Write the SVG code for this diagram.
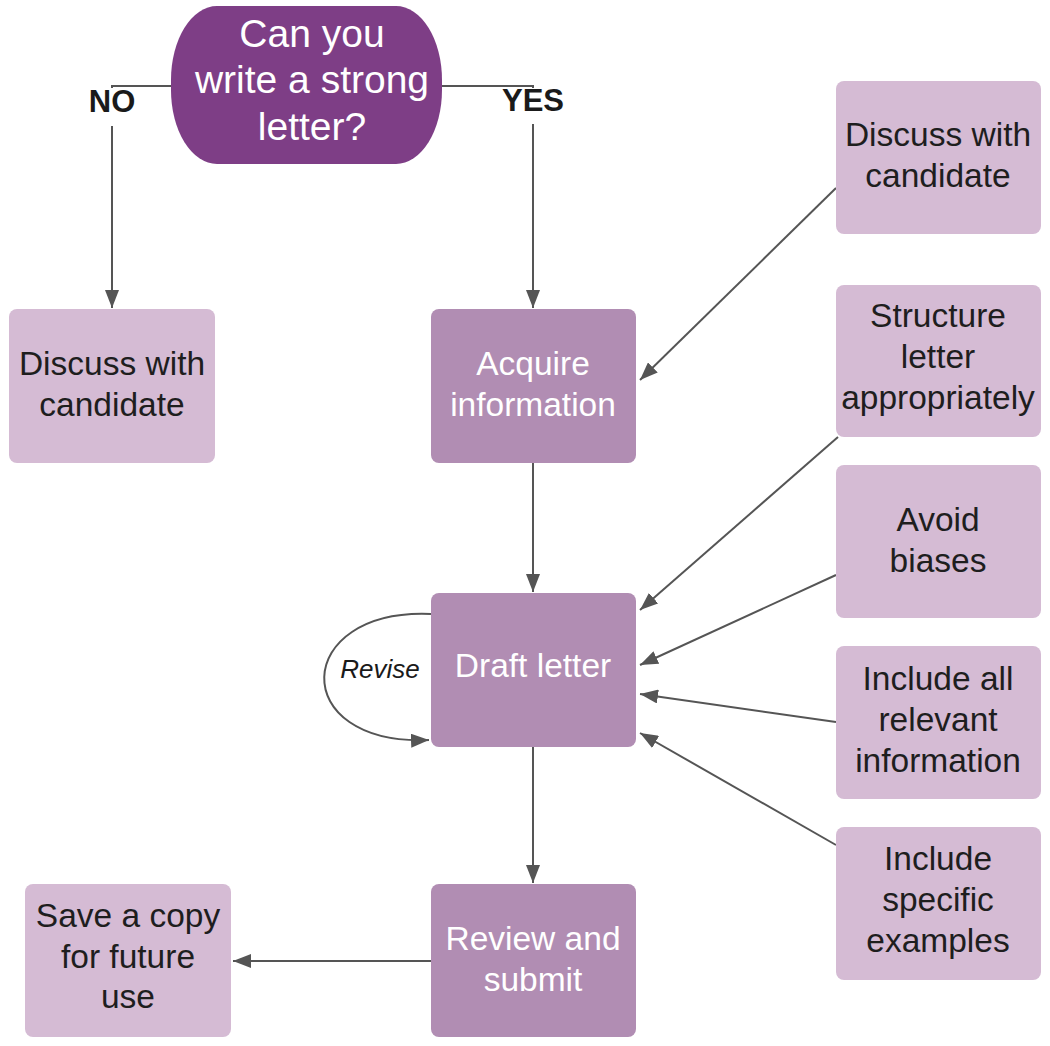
<svg xmlns="http://www.w3.org/2000/svg" width="1050" height="1046" viewBox="0 0 1050 1046">
<defs>
<style>
.term{fill:#7e3e86}
.mid{fill:#b18db3}
.light{fill:#d5bbd4}
.wt{fill:#ffffff;font-family:"Liberation Sans",Arial,sans-serif;font-size:33.5px;text-anchor:middle}
.bt{fill:#1e1e1e;font-family:"Liberation Sans",Arial,sans-serif;font-size:33.5px;text-anchor:middle}
.tt{fill:#ffffff;font-family:"Liberation Sans",Arial,sans-serif;font-size:39px;text-anchor:middle}
.lbl{fill:#1a1a1a;font-family:"Liberation Sans",Arial,sans-serif;font-size:31px;font-weight:bold;text-anchor:middle}
.rev{fill:#1a1a1a;font-family:"Liberation Sans",Arial,sans-serif;font-size:26px;font-style:italic;text-anchor:middle}
.c{fill:none;stroke:#555555;stroke-width:2;marker-end:url(#ah)}
</style>
<marker id="ah" viewBox="0 0 18 14" markerWidth="18" markerHeight="14" refX="18" refY="7" orient="auto" markerUnits="userSpaceOnUse">
<path d="M0,0 L18,7 L0,14 z" fill="#555555"/>
</marker>
</defs>
<rect width="1050" height="1046" fill="#ffffff"/>

<g id="connectors">
<path class="c" d="M172,86 H112 V308"/>
<path class="c" d="M442,86 H533 V308"/>
<path class="c" d="M533,463 V592"/>
<path class="c" d="M533,747 V883"/>
<path class="c" d="M431,961 H233"/>
<path class="c" d="M836,188 L640,380"/>
<path class="c" d="M838,437 L640,610"/>
<path class="c" d="M836,575 L640,665"/>
<path class="c" d="M836,722 L640,694"/>
<path class="c" d="M836,845 L640,733"/>
<path class="c" d="M431,614 C292,608 286,746 429,740"/>
<rect x="86" y="88" width="52" height="38" fill="#ffffff"/>
<text class="lbl" x="112" y="112">NO</text>
<rect x="498" y="88" width="70" height="36" fill="#ffffff"/>
<text class="lbl" x="533" y="111">YES</text>
<text class="rev" x="380" y="678">Revise</text>
</g>

<g id="start">
<rect class="term" x="171" y="6" width="271" height="158" rx="46" ry="74"/>
<text class="tt" x="312" y="47">Can you</text>
<text class="tt" x="312" y="93">write a strong</text>
<text class="tt" x="312" y="140">letter?</text>
</g>

<g id="discuss-left">
<rect class="light" x="9" y="309" width="206" height="154" rx="8"/>
<text class="bt" x="112" y="375">Discuss with</text>
<text class="bt" x="112" y="416">candidate</text>
</g>

<g id="acquire">
<rect class="mid" x="431" y="309" width="205" height="154" rx="8"/>
<text class="wt" x="533" y="375">Acquire</text>
<text class="wt" x="533" y="416">information</text>
</g>

<g id="draft">
<rect class="mid" x="431" y="593" width="205" height="154" rx="8"/>
<text class="wt" x="533" y="677">Draft letter</text>
</g>

<g id="review">
<rect class="mid" x="431" y="884" width="205" height="153" rx="8"/>
<text class="wt" x="533" y="950">Review and</text>
<text class="wt" x="533" y="991">submit</text>
</g>

<g id="save">
<rect class="light" x="25" y="884" width="206" height="153" rx="8"/>
<text class="bt" x="128" y="927">Save a copy</text>
<text class="bt" x="128" y="968">for future</text>
<text class="bt" x="128" y="1008">use</text>
</g>

<g id="discuss-right">
<rect class="light" x="836" y="81" width="205" height="153" rx="8"/>
<text class="bt" x="938" y="146">Discuss with</text>
<text class="bt" x="938" y="187">candidate</text>
</g>

<g id="structure">
<rect class="light" x="836" y="285" width="205" height="152" rx="8"/>
<text class="bt" x="938" y="327">Structure</text>
<text class="bt" x="938" y="368">letter</text>
<text class="bt" x="938" y="409">appropriately</text>
</g>

<g id="avoid">
<rect class="light" x="836" y="465" width="205" height="153" rx="8"/>
<text class="bt" x="938" y="531">Avoid</text>
<text class="bt" x="938" y="572">biases</text>
</g>

<g id="include-all">
<rect class="light" x="836" y="646" width="205" height="153" rx="8"/>
<text class="bt" x="938" y="690">Include all</text>
<text class="bt" x="938" y="731">relevant</text>
<text class="bt" x="938" y="772">information</text>
</g>

<g id="include-specific">
<rect class="light" x="836" y="827" width="205" height="153" rx="8"/>
<text class="bt" x="938" y="870">Include</text>
<text class="bt" x="938" y="911">specific</text>
<text class="bt" x="938" y="952">examples</text>
</g>
</svg>
